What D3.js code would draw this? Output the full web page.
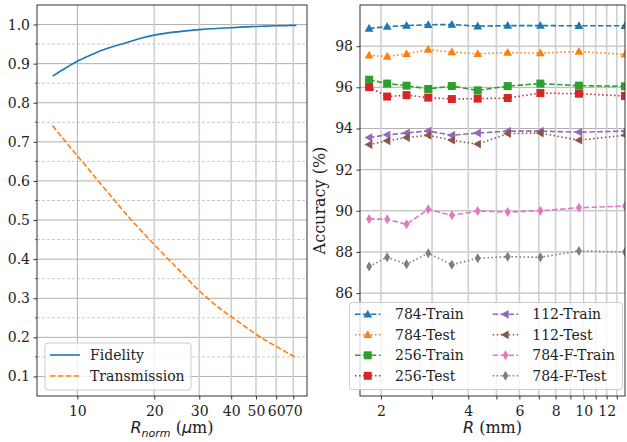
<!DOCTYPE html>
<html><head><meta charset="utf-8">
<script src="https://cdn.jsdelivr.net/npm/d3@7"></script>
<style>
body{margin:0;background:#fff;}
svg{display:block;}
text{font-family:"DejaVu Serif",serif;fill:#222;}
</style></head>
<body>
<script>
// ---------- Left panel data ----------
const rnorm = [8,9,10,11,12,14,16,18,20,25,30,35,40,45,50,55,60,65,70,72];
const fidelity = [0.868,0.889,0.906,0.919,0.930,0.945,0.956,0.966,0.973,0.982,0.987,0.990,0.992,0.994,0.995,0.996,0.997,0.997,0.998,0.998];
const transmission = [0.741,0.700,0.664,0.632,0.602,0.550,0.505,0.469,0.437,0.372,0.319,0.281,0.253,0.229,0.208,0.191,0.177,0.164,0.152,0.148];
const leftXTicks = [10,20,30,40,50,60,70];
const leftYTicks = [0.1,0.2,0.3,0.4,0.5,0.6,0.7,0.8,0.9,1.0];
const leftYMinor = [0.15,0.25,0.35,0.45,0.55,0.65,0.75,0.85,0.95];
const leftNames = ["Fidelity","Transmission"];

// ---------- Right panel data ----------
const rmm = [1.82,2.10,2.45,2.91,3.51,4.31,5.47,7.09,9.63,13.88];
const acc784Train  = [98.86,98.95,99.00,99.04,99.05,98.97,99.00,99.00,98.99,98.99];
const acc784Test   = [97.55,97.50,97.63,97.83,97.71,97.63,97.69,97.66,97.74,97.60];
const acc256Train  = [96.37,96.18,96.08,95.92,96.06,95.85,96.06,96.18,96.08,96.05];
const acc256Test   = [96.01,95.55,95.62,95.50,95.43,95.45,95.48,95.72,95.69,95.58];
const acc112Train  = [93.56,93.69,93.78,93.88,93.67,93.78,93.87,93.87,93.82,93.87];
const acc112Test   = [93.22,93.40,93.56,93.67,93.43,93.24,93.75,93.78,93.43,93.67];
const acc784FTrain = [89.60,89.59,89.34,90.07,89.78,89.99,89.94,90.00,90.15,90.23];
const acc784FTest  = [87.29,87.74,87.40,87.94,87.38,87.69,87.77,87.74,88.05,88.00];
const seriesNames = ["784-Train","784-Test","256-Train","256-Test","112-Train","112-Test","784-F-Train","784-F-Test"];
const rightXGrid = [2,3,4,5,6,7,8,9,10,11,12,13];
const rightXLabels = [2,4,6,8,10,12];
const rightYTicks = [86,88,90,92,94,96,98];

const W=627,H=442;
const svg=d3.select("body").append("svg").attr("width",W).attr("height",H);
const defs=svg.append("defs");

const L={x0:37,x1:307,y0:5,y1:396};
const R={x0:360,x1:625,y0:5,y1:396};
const FS_TICK="14px", FS_LAB="16px";

function clip(id,b){defs.append("clipPath").attr("id",id).append("rect").attr("x",b.x0).attr("y",b.y0).attr("width",b.x1-b.x0).attr("height",b.y1-b.y0);}
clip("clipL",L);clip("clipR",R);

// ===== Left panel =====
const xL=d3.scaleLog().domain([6.95,79.2]).range([L.x0,L.x1]);
const yL=d3.scaleLinear().domain([0.05,1.05]).range([L.y1,L.y0]);
const gL=svg.append("g");
gL.selectAll(".hmin").data(leftYMinor).join("line").attr("x1",L.x0).attr("x2",L.x1)
 .attr("y1",d=>yL(d)).attr("y2",d=>yL(d)).attr("stroke","#c4c4c4").attr("stroke-width",0.9).attr("stroke-dasharray","3,2");
gL.selectAll(".hmaj").data(leftYTicks).join("line").attr("x1",L.x0).attr("x2",L.x1)
 .attr("y1",d=>yL(d)).attr("y2",d=>yL(d)).attr("stroke","#b0b0b0").attr("stroke-width",1);
gL.selectAll(".vg").data(leftXTicks).join("line").attr("y1",L.y0).attr("y2",L.y1)
 .attr("x1",d=>xL(d)).attr("x2",d=>xL(d))
 .attr("stroke",d=>d===10?"#b0b0b0":"#d0d0d0").attr("stroke-width",d=>d===10?1:1.6);
const lineL=(ys)=>d3.line().curve(d3.curveMonotoneX).x((d,i)=>xL(rnorm[i])).y(d=>yL(d))(ys);
const gLc=gL.append("g").attr("clip-path","url(#clipL)");
gLc.append("path").attr("d",lineL(fidelity)).attr("fill","none").attr("stroke","#1f77b4").attr("stroke-width",1.6);
gLc.append("path").attr("d",lineL(transmission)).attr("fill","none").attr("stroke","#ff7f0e").attr("stroke-width",1.6).attr("stroke-dasharray","5.5,2.4");
const axLx=d3.axisBottom(xL).tickValues(leftXTicks).tickFormat(d3.format("d")).tickSize(3.5).tickPadding(7);
svg.append("g").attr("transform",`translate(0,${L.y1})`).call(axLx);
const axLy=d3.axisLeft(yL).tickValues(leftYTicks).tickFormat(d3.format(".1f")).tickSize(3.5).tickPadding(3.5);
svg.append("g").attr("transform",`translate(${L.x0},0)`).call(axLy);
svg.append("g").selectAll("line").data(leftYMinor).join("line").attr("x1",L.x0-2).attr("x2",L.x0)
 .attr("y1",d=>yL(d)).attr("y2",d=>yL(d)).attr("stroke","#333").attr("stroke-width",0.8);
svg.append("rect").attr("x",L.x0).attr("y",L.y0).attr("width",L.x1-L.x0).attr("height",L.y1-L.y0).attr("fill","none").attr("stroke","#333").attr("stroke-width",1);

// ===== Right panel =====
const xR=d3.scaleLog().domain([1.693,13.88]).range([R.x0,R.x1]);
const yR=d3.scaleLinear().domain([81,100]).range([R.y1,R.y0]);
const gR=svg.append("g");
gR.selectAll(".hg").data(rightYTicks).join("line").attr("x1",R.x0).attr("x2",R.x1)
 .attr("y1",d=>yR(d)).attr("y2",d=>yR(d)).attr("stroke","#b0b0b0").attr("stroke-width",1);
gR.selectAll(".vg").data(rightXGrid).join("line").attr("y1",R.y0).attr("y2",R.y1)
 .attr("x1",d=>xR(d)).attr("x2",d=>xR(d))
 .attr("stroke",d=>d===10?"#b8b8b8":"#d0d0d0").attr("stroke-width",d=>d===10?1:1.6);

const colors=["#1f77b4","#ff7f0e","#2ca02c","#d62728","#9467bd","#8c564b","#e377c2","#7f7f7f"];
const markers=["tri","tri","sq","sq","left","left","dia","dia"];
const allSeries=[acc784Train,acc784Test,acc256Train,acc256Test,acc112Train,acc112Test,acc784FTrain,acc784FTest];
function markerPath(type){
  if(type==="tri") return "M0,-4.6L4.4,3.2L-4.4,3.2Z";
  if(type==="left") return "M-4.6,0L3.2,-4.4L3.2,4.4Z";
  if(type==="sq") return "M-4,-4H4V4H-4Z";
  if(type==="dia") return "M0,-5L3,0L0,5L-3,0Z";
}
const dashFor=i=> i%2===0?"5.5,2.4":"1.5,2.5";
const gRc=gR.append("g").attr("clip-path","url(#clipR)");
allSeries.forEach((s,k)=>{
  const line=d3.line().x((d,i)=>xR(rmm[i])).y(d=>yR(d));
  gRc.append("path").attr("d",line(s)).attr("fill","none").attr("stroke",colors[k]).attr("stroke-width",1.6).attr("stroke-dasharray",dashFor(k));
  gRc.selectAll(null).data(s).join("path").attr("d",markerPath(markers[k]))
   .attr("transform",(d,i)=>`translate(${xR(rmm[i])},${yR(d)})`).attr("fill",colors[k]);
});
const axRx=d3.axisBottom(xR).tickValues(rightXGrid).tickFormat(d=>rightXLabels.includes(d)?d:"").tickSize(3.5).tickPadding(7);
svg.append("g").attr("transform",`translate(0,${R.y1})`).call(axRx);
const axRy=d3.axisLeft(yR).tickValues(rightYTicks).tickFormat(d3.format("d")).tickSize(3.5).tickPadding(3.5);
svg.append("g").attr("transform",`translate(${R.x0},0)`).call(axRy);
svg.append("rect").attr("x",R.x0).attr("y",R.y0).attr("width",R.x1-R.x0).attr("height",R.y1-R.y0).attr("fill","none").attr("stroke","#333").attr("stroke-width",1);

svg.selectAll(".tick text").style("font-family","'DejaVu Serif',serif").style("font-size",FS_TICK).attr("fill","#222");
svg.selectAll(".tick line").attr("stroke","#333");
svg.selectAll(".domain").remove();

// axis labels
const xl1=svg.append("text").attr("x",(L.x0+L.x1)/2).attr("y",433).attr("text-anchor","middle").style("font-size",FS_LAB);
xl1.append("tspan").text("R").style("font-family","'DejaVu Sans',sans-serif").style("font-style","italic");
xl1.append("tspan").text("norm").attr("dy",3.5).style("font-size","11px").style("font-family","'DejaVu Sans',sans-serif").style("font-style","italic");
xl1.append("tspan").text(" (").attr("dy",-3.5);
xl1.append("tspan").text("μ").style("font-family","'DejaVu Sans',sans-serif").style("font-style","italic");
xl1.append("tspan").text("m)");
const xl2=svg.append("text").attr("x",(R.x0+R.x1)/2).attr("y",433).attr("text-anchor","middle").style("font-size",FS_LAB);
xl2.append("tspan").text("R").style("font-family","'DejaVu Sans',sans-serif").style("font-style","italic");
xl2.append("tspan").text(" (mm)");
svg.append("text").attr("transform",`translate(324.5,${(R.y0+R.y1)/2}) rotate(-90)`).attr("text-anchor","middle").style("font-size",FS_LAB).text("Accuracy (%)");

// ===== Legends =====
function legendBox(x,y,w,h){svg.append("rect").attr("x",x).attr("y",y).attr("width",w).attr("height",h).attr("rx",3)
  .attr("fill","rgba(255,255,255,0.8)").attr("stroke","#cccccc").attr("stroke-width",1);}
legendBox(45,343,146,47);
const lgL=[{c:"#1f77b4",d:null},{c:"#ff7f0e",d:"5.5,2.4"}];
lgL.forEach((e,i)=>{
  const cy=355+i*21;
  svg.append("line").attr("x1",50).attr("x2",80).attr("y1",cy).attr("y2",cy).attr("stroke",e.c).attr("stroke-width",1.6).attr("stroke-dasharray",e.d);
  svg.append("text").attr("x",90).attr("y",cy).attr("dy","0.35em").style("font-size",FS_TICK).text(leftNames[i]);
});
legendBox(349.5,302.5,273,87);
seriesNames.forEach((n,k)=>{
  const col=k<4?0:1, row=k%4;
  const hx=col===0?355:492.7, tx=col===0?395:532.3;
  const cy=314.3+row*20.5;
  svg.append("line").attr("x1",hx).attr("x2",hx+25.5).attr("y1",cy).attr("y2",cy).attr("stroke",colors[k]).attr("stroke-width",1.6).attr("stroke-dasharray",dashFor(k));
  svg.append("path").attr("d",markerPath(markers[k])).attr("transform",`translate(${hx+12.75},${cy})`).attr("fill",colors[k]);
  svg.append("text").attr("x",tx).attr("y",cy).attr("dy","0.35em").style("font-size",FS_TICK).text(n);
});
</script>
</body></html>
